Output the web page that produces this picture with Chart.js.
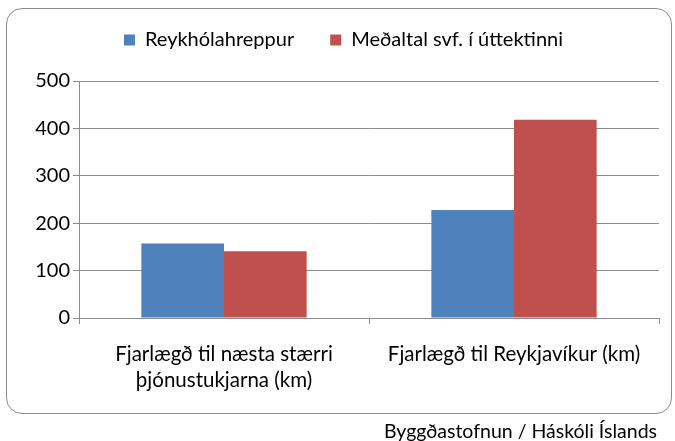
<!DOCTYPE html>
<html>
<head>
<meta charset="utf-8">
<script src="https://cdn.jsdelivr.net/npm/chart.js@4/dist/chart.umd.min.js"></script>
<style>
  body { margin: 0; background: #fff; font-family: Lato, "Open Sans", sans-serif; }
  #wrap { position: relative; width: 675px; height: 441px; }
  #box { position: absolute; left: 6px; top: 8px; width: 664px; height: 404px;
         border: 1px solid #8c8c8c; border-radius: 16px; }
  #chart { position: absolute; left: 0; top: 0; }
  #source { position: absolute; left: 0; width: 657px; top: 419px; text-align: right;
            font-size: 19.5px; color: #000; }
</style>
</head>
<body>
<div id="wrap">
  <div id="box"></div>
  <canvas id="chart" width="675" height="441"></canvas>
  <div id="source">Byggðastofnun / Háskóli Íslands</div>
</div>
<script>
// categories and series
const categories = [["Fjarlægð til næsta stærri", "þjónustukjarna (km)"], "Fjarlægð til Reykjavíkur (km)"];
const reykholahreppur = [157, 228];
const medaltal = [141, 418];
const yTicks = [0, 100, 200, 300, 400, 500];

const gridColor = '#8c8c8c';
const fontFam = 'Lato, "Open Sans", sans-serif';

// legend keeps its wide item spacing but is drawn a bit higher and to the right
const legendShift = {
  id: 'legendShift',
  beforeInit(chart) {
    const lg = chart.legend;
    const draw = lg.draw;
    lg.draw = function () {
      const ctx = this.ctx;
      ctx.save();
      ctx.translate(14, -21);
      draw.apply(this, arguments);
      ctx.restore();
    };
  }
};

new Chart(document.getElementById('chart'), {
  type: 'bar',
  data: {
    labels: categories,
    datasets: [
      { label: 'Reykhólahreppur', data: reykholahreppur, backgroundColor: '#4f81bd' },
      { label: 'Meðaltal svf. í úttektinni', data: medaltal, backgroundColor: '#c0504d' }
    ]
  },
  plugins: [legendShift],
  options: {
    responsive: false,
    animation: false,
    layout: { padding: { left: 0, right: 16, top: 15, bottom: 26 } },
    datasets: { bar: { barPercentage: 1, categoryPercentage: 0.57 } },
    plugins: {
      tooltip: { enabled: false },
      legend: {
        position: 'top',
        labels: {
          boxWidth: 11, boxHeight: 11, padding: 36,
          color: '#000', font: { family: fontFam, size: 20 }
        }
      }
    },
    scales: {
      x: {
        grid: { offset: true, drawOnChartArea: false, color: gridColor, tickLength: 6 },
        border: { color: gridColor },
        ticks: { color: '#000', font: { family: fontFam, size: 20.5, lineHeight: 1.27 }, padding: 17, maxRotation: 0 },
        afterFit: s => { s.height = 97; }
      },
      y: {
        min: 0, max: 500,
        afterBuildTicks: s => { s.ticks = yTicks.map(v => ({ value: v })); },
        grid: { color: gridColor, tickLength: 6 },
        border: { color: gridColor },
        ticks: { color: '#000', font: { family: fontFam, size: 20 }, padding: 3 },
        afterFit: s => { s.width = 79; }
      }
    }
  }
});
</script>
</body>
</html>
